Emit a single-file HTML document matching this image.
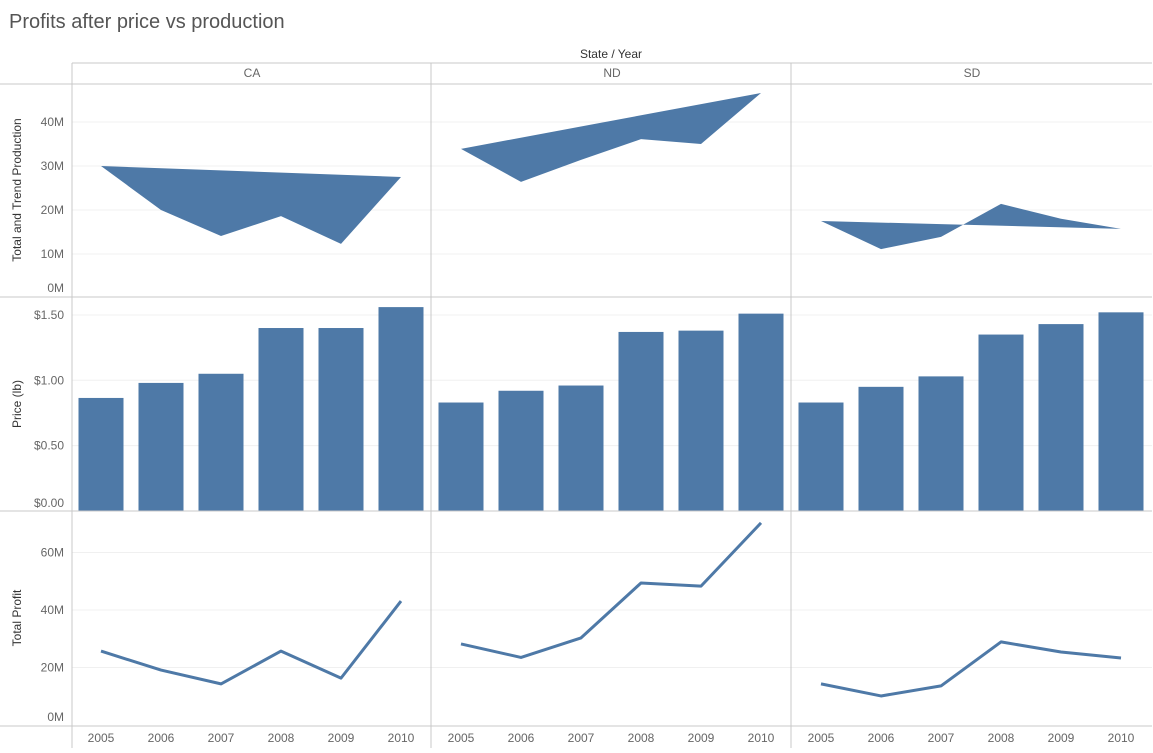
<!DOCTYPE html>
<html><head><meta charset="utf-8"><style>
body{margin:0;background:#fff;font-family:"Liberation Sans",sans-serif;}
svg text{font-family:"Liberation Sans",sans-serif;}
</style></head><body>
<svg id="c" width="1153" height="748" xmlns="http://www.w3.org/2000/svg">
<text x="9" y="28" font-size="20" fill="#555">Profits after price vs production</text>
<text x="611" y="58" font-size="12" fill="#333" text-anchor="middle">State / Year</text>
<g id="g"></g>
</svg>
<script>
const states=['CA','ND','SD'];
const years=['2005','2006','2007','2008','2009','2010'];
const prodTotal={CA:[30,20,14.1,18.6,12.3,27.5],ND:[33.9,26.4,31.4,36.1,35,46.6],SD:[17.5,11.1,13.9,21.4,18,15.7]};
const prodTrend={CA:[30,27.5],ND:[33.9,46.6],SD:[17.5,15.7]};
const price={CA:[0.865,0.98,1.05,1.40,1.40,1.56],ND:[0.83,0.92,0.96,1.37,1.38,1.51],SD:[0.83,0.95,1.03,1.35,1.43,1.52]};
const profit={CA:[25.7,19.1,14.3,25.7,16.3,43.1],ND:[28.2,23.5,30.3,49.4,48.3,70.3],SD:[14.3,10.1,13.6,28.9,25.4,23.3]};
const prodTicks=[0,10,20,30,40];
const priceTicks=[0,0.5,1,1.5];
const profitTicks=[0,20,40,60];

const NS='http://www.w3.org/2000/svg',g=document.getElementById('g');
function el(t,a,txt){const e=document.createElementNS(NS,t);for(const k in a)e.setAttribute(k,a[k]);if(txt!==undefined)e.textContent=txt;g.appendChild(e);return e;}
const L=72,R=1152,CW=360,col='#4e79a7';
const xS=(c,i)=>L+c*CW+29+i*60;
const yProd=v=>298-v*4.4, yPrice=v=>511-v*130.7, yProf=v=>725-v*2.875;
// gridlines
prodTicks.forEach(t=>{if(t>0){const e=el('line',{x1:L,x2:R,y1:yProd(t),y2:yProd(t),stroke:'#f0f0f0'});}});
priceTicks.forEach(t=>{if(t>0){const e=el('line',{x1:L,x2:R,y1:yPrice(t),y2:yPrice(t),stroke:'#f0f0f0'});}});
profitTicks.forEach(t=>{if(t>0){const e=el('line',{x1:L,x2:R,y1:yProf(t),y2:yProf(t),stroke:'#f0f0f0'});}});
// ticks
prodTicks.forEach(t=>{const e=el('text',{x:64,y:Math.min(yProd(t)+4,292),'font-size':12,fill:'#666','text-anchor':'end'},t+'M');});
priceTicks.forEach(t=>{const e=el('text',{x:64,y:Math.min(yPrice(t)+4,507),'font-size':12,fill:'#666','text-anchor':'end'},'$'+t.toFixed(2));});
profitTicks.forEach(t=>{const e=el('text',{x:64,y:Math.min(yProf(t)+4,721),'font-size':12,fill:'#666','text-anchor':'end'},t+'M');});
[['Total and Trend Production',190],['Price (lb)',404],['Total Profit',618]].forEach(a=>{const e=el('text',{x:0,y:0,'font-size':12,fill:'#333','text-anchor':'middle',transform:`translate(21,${a[1]}) rotate(-90)`},a[0]);});
states.forEach((s,c)=>{
  const e=el('text',{x:L+c*CW+CW/2,y:77,'font-size':12,fill:'#666','text-anchor':'middle'},s);
  // area between total and trend
  const n=years.length;let pts=[];
  prodTotal[s].forEach((v,i)=>pts.push(xS(c,i)+','+yProd(v)));
  pts.push(xS(c,n-1)+','+yProd(prodTrend[s][1]));pts.push(xS(c,0)+','+yProd(prodTrend[s][0]));
  const a=el('polygon',{points:pts.join(' '),fill:col});
  price[s].forEach((v,i)=>{const b=el('rect',{x:xS(c,i)-22.5,y:yPrice(v),width:45,height:511-yPrice(v),fill:col});});
  const p=el('polyline',{points:profit[s].map((v,i)=>xS(c,i)+','+yProf(v)).join(' '),fill:'none',stroke:col,'stroke-width':3,'stroke-linejoin':'round'});
  years.forEach((y,i)=>{const t=el('text',{x:xS(c,i),y:742,'font-size':12,fill:'#666','text-anchor':'middle'},y);});
});
// frame lines
[[0,84,R,84],[0,297,R,297],[0,511,R,511],[0,726,R,726],[L,63,L,748],[431,63,431,748],[791,63,791,748]].forEach(a=>{const e=el('line',{x1:a[0],y1:a[1],x2:a[2],y2:a[3],stroke:'#c8c8c8'});});
const h=el('line',{x1:L,y1:63,x2:R,y2:63,stroke:'#c8c8c8'});
</script>
</body></html>
